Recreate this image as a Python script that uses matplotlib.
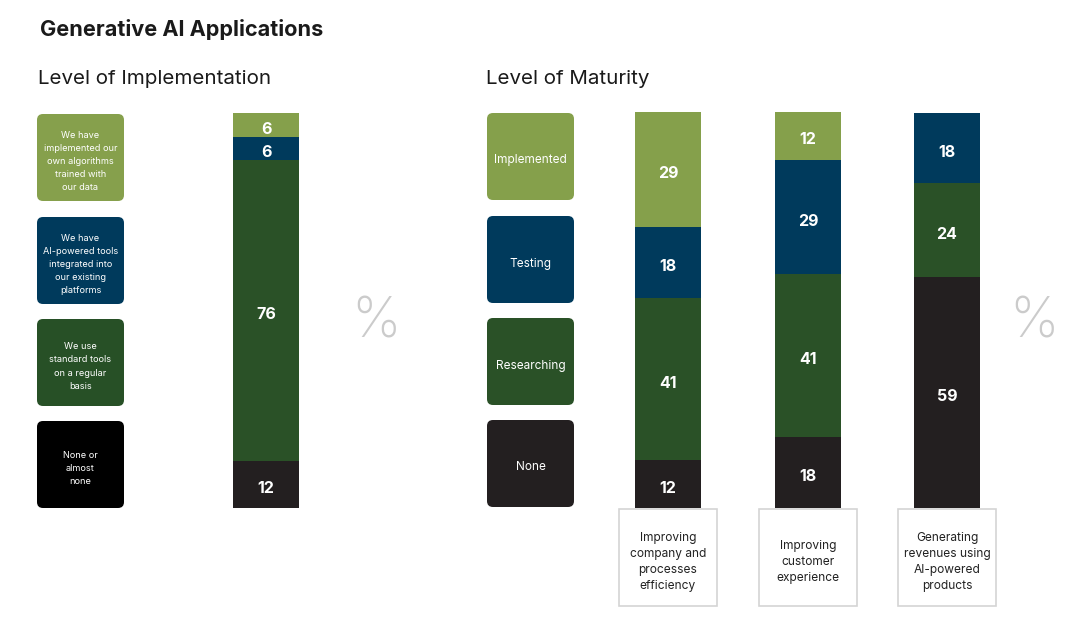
import matplotlib
matplotlib.use('Agg')
import matplotlib.pyplot as plt
import matplotlib.transforms as mtransforms
from matplotlib.patches import FancyBboxPatch, Rectangle

plt.rcParams['font.family'] = ['Inter', 'DejaVu Sans']

# ── Data ──────────────────────────────────────────────────────────────────────
impl_labels = ['We have\nimplemented our\nown algorithms\ntrained with\nour data',
               'We have\nAI-powered tools\nintegrated into\nour existing\nplatforms',
               'We use\nstandard tools\non a regular\nbasis',
               'None or\nalmost\nnone']
impl_values = [6, 6, 76, 12]          # top -> bottom

maturity_labels = ['Implemented', 'Testing', 'Researching', 'None']
maturity_cats = ['Improving\ncompany and\nprocesses\nefficiency',
                 'Improving\ncustomer\nexperience',
                 'Generating\nrevenues using\nAI-powered\nproducts']
maturity_values = [
    [29, 18, 41, 12],
    [12, 29, 41, 18],
    [0, 18, 24, 59],
]

# ── Styles ────────────────────────────────────────────────────────────────────
COLORS = ['#85a04b', '#003a5c', '#2a5127', '#231f20']
LEFT_BOX_COLORS = ['#86a04c', '#003a5c', '#275026', '#000000']
W, H = 1080, 625

fig = plt.figure(figsize=(W / 100, H / 100), dpi=100)
fig.patch.set_facecolor('white')

# overlay axes in pixel coordinates for boxes and headings
ov = fig.add_axes([0, 0, 1, 1])
ov.set_xlim(0, W)
ov.set_ylim(H, 0)
ov.axis('off')

ov.text(40, 30, 'Generative AI Applications', fontsize=15.6, fontweight='bold',
        color='#1a1a1a', ha='left', va='center')
ov.text(38, 79, 'Level of Implementation', fontsize=14.8, color='#1a1a1a',
        ha='left', va='center')
ov.text(486, 79, 'Level of Maturity', fontsize=14.8, color='#1a1a1a',
        ha='left', va='center')


def legend_box(x, y, w, h, color, label, fs, ls):
    ov.add_patch(FancyBboxPatch((x + 6, y + 6), w - 12, h - 12,
                                boxstyle='round,pad=6', fc=color, ec='none'))
    ov.text(x + w / 2, y + h / 2 + 4, label, ha='center', va='center',
            color='white', fontsize=fs, linespacing=ls)


box_tops = [114, 217, 319, 421]
for top, col, lab in zip(box_tops, LEFT_BOX_COLORS, impl_labels):
    legend_box(37, top, 87, 87, col, lab, 6.6, 1.6)

for top, col, lab in zip([113, 216, 318, 420], COLORS, maturity_labels):
    legend_box(487, top, 87, 87, col, lab, 8.5, 1.3)


def stacked_bar(x0, top, bottom, width, values):
    ax = fig.add_axes([x0 / W, 1 - bottom / H, width / W, (bottom - top) / H])
    shift = mtransforms.offset_copy(ax.transData, fig=fig, x=0, y=-3, units='points')
    total = sum(values)
    base = total
    for v, c in zip(values, COLORS):
        if v <= 0:
            continue
        base -= v
        ax.bar(0, v, bottom=base, width=1, color=c, edgecolor='none')
        ax.text(0, base + v / 2, str(v), ha='center', va='center', transform=shift,
                color='white', fontsize=11.5, fontweight='bold')
    ax.set_xlim(-0.5, 0.5)
    ax.set_ylim(0, total)
    ax.axis('off')


stacked_bar(233, 113, 508, 66, impl_values)
bar_x = [635, 775, 914]
for bx, vals in zip(bar_x, maturity_values):
    top = 112 if vals[0] else 113
    stacked_bar(bx, top, 508, 66, vals)

for bx, cat in zip(bar_x, maturity_cats):
    cx = bx + 33
    ov.add_patch(Rectangle((cx - 49, 509), 98, 97, fc='white', ec='#d4d4d4', lw=1.2))
    ov.text(cx, 562, cat, ha='center', va='center', fontsize=8.6,
            color='#222222', linespacing=1.45)

for px in [376, 1034]:
    ov.text(px, 322, '%', ha='center', va='center', fontsize=40,
            color='#cbcbcb', fontweight='light')

fig.savefig('out.png', dpi=100)
